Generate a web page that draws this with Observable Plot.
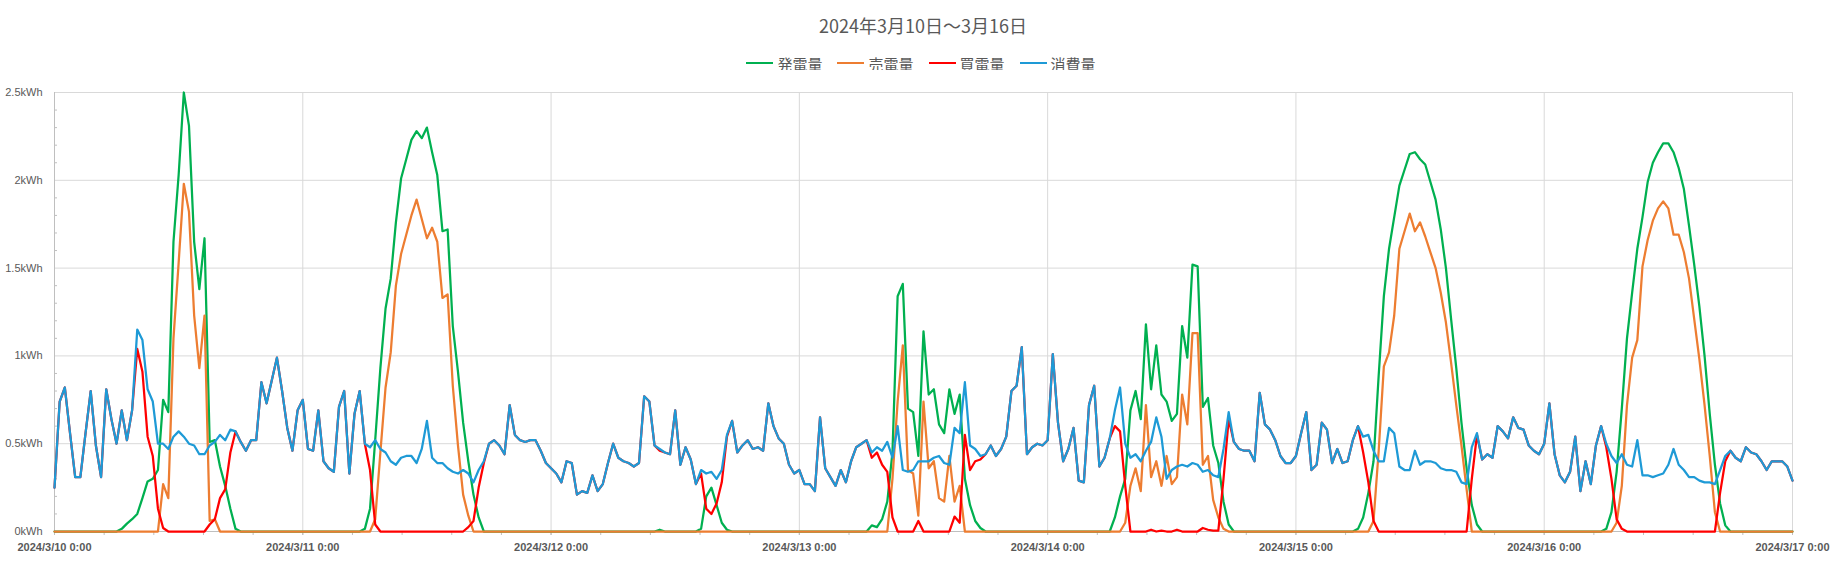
<!DOCTYPE html>
<html>
<head>
<meta charset="utf-8">
<script src="https://cdn.jsdelivr.net/npm/d3@7"></script>
<script src="https://cdn.jsdelivr.net/npm/@observablehq/plot@0.6"></script>
<style>
html, body { margin: 0; padding: 0; background: #ffffff; }
#wrap { position: relative; width: 1840px; height: 561px; overflow: hidden; color: #595959; }
#title { position: absolute; left: 0; top: 11px; width: 1846px; text-align: center; font-family: "Noto Sans CJK JP", "Noto Sans", sans-serif; font-size: 18px; line-height: 28px; color: #595959; }
#legend { position: absolute; left: 0; top: 50px; width: 1842px; height: 26px; display: flex; justify-content: center; align-items: center; gap: 15px; font-family: "Noto Sans CJK JP", "Noto Sans", sans-serif; font-size: 15px; color: #595959; }
.item { display: flex; align-items: center; gap: 4px; }
.sw { width: 27px; height: 2.5px; }
#chart { position: absolute; left: 0; top: 70px; }
</style>
</head>
<body>
<div id="wrap">
  <div id="title"></div>
  <div id="legend"></div>
  <div id="chart"></div>
</div>
<script>
// ---- data (half-hourly, 2024/3/10 0:00 .. 2024/3/17 0:00) ----
const titleText = "2024年3月10日～3月16日";
const seriesNames = ["発電量", "売電量", "買電量", "消費量"];
const seriesColors = ["#00b050", "#ed7d31", "#ff0000", "#1e9ad6"];
const startTime = "2024-03-10T00:00:00Z";

const dayTicks = ["2024-03-10T00:00:00Z","2024-03-11T00:00:00Z","2024-03-12T00:00:00Z","2024-03-13T00:00:00Z","2024-03-14T00:00:00Z","2024-03-15T00:00:00Z","2024-03-16T00:00:00Z","2024-03-17T00:00:00Z"];
const xTickLabels = ["2024/3/10 0:00","2024/3/11 0:00","2024/3/12 0:00","2024/3/13 0:00","2024/3/14 0:00","2024/3/15 0:00","2024/3/16 0:00","2024/3/17 0:00"];
const yTicks = [0, 0.5, 1, 1.5, 2, 2.5];
const yTickLabels = ["0kWh","0.5kWh","1kWh","1.5kWh","2kWh","2.5kWh"];
const yMinorTicks = [0.1,0.2,0.3,0.4,0.6,0.7,0.8,0.9,1.1,1.2,1.3,1.4,1.6,1.7,1.8,1.9,2.1,2.2,2.3,2.4];

// 発電量 (generation)
const gen = [
0,0,0,0,0,0,0,0,0,0, 0,0,0,0.015,0.045,0.07,0.10,0.19,0.285,0.30, 0.35,0.75,0.68,1.65,2.03,2.50,2.31,1.65,1.38,1.67, 0.51,0.52,0.37,0.26,0.13,0.015,0,0,0,0, 0,0,0,0,0,0,0,0,
0,0,0,0,0,0,0,0,0,0, 0,0,0.015,0.13,0.52,0.93,1.27,1.44,1.76,2.01, 2.12,2.23,2.28,2.24,2.30,2.16,2.03,1.71,1.72,1.17, 0.91,0.62,0.40,0.21,0.08,0,0,0,0,0, 0,0,0,0,0,0,0,0,
0,0,0,0,0,0,0,0,0,0, 0,0,0,0,0,0,0,0,0,0, 0,0.01,0,0,0,0,0,0,0,0.015, 0.20,0.25,0.15,0.05,0.01,0,0,0,0,0, 0,0,0,0,0,0,0,0,
0,0,0,0,0,0,0,0,0,0, 0,0,0,0,0.035,0.025,0.07,0.17,0.45,1.34, 1.41,0.70,0.68,0.43,1.14,0.78,0.81,0.61,0.56,0.81, 0.67,0.78,0.30,0.15,0.06,0.02,0,0,0,0, 0,0,0,0,0,0,0,0,
0,0,0,0,0,0,0,0,0,0, 0,0,0,0.08,0.20,0.30,0.69,0.80,0.64,1.18, 0.81,1.06,0.78,0.74,0.63,0.67,1.17,0.99,1.52,1.51, 0.71,0.76,0.49,0.39,0.17,0.04,0,0,0,0, 0,0,0,0,0,0,0,0,
0,0,0,0,0,0,0,0,0,0, 0,0,0.015,0.08,0.22,0.40,0.89,1.34,1.61,1.79, 1.97,2.06,2.15,2.16,2.12,2.09,1.99,1.89,1.72,1.50, 1.21,0.93,0.62,0.36,0.15,0.04,0,0,0,0, 0,0,0,0,0,0,0,0,
0,0,0,0,0,0,0,0,0,0, 0,0,0.015,0.11,0.34,0.70,1.10,1.36,1.61,1.79, 1.99,2.10,2.16,2.21,2.21,2.16,2.07,1.95,1.74,1.52, 1.28,1.00,0.67,0.38,0.16,0.035,0,0,0,0, 0,0,0,0,0,0,0,0,
0];

// 売電量 (sold)
const sell = [
0,0,0,0,0,0,0,0,0,0, 0,0,0,0,0,0,0,0,0,0, 0,0.27,0.19,1.10,1.53,1.98,1.82,1.23,0.93,1.23, 0.06,0.07,0,0,0,0,0,0,0,0, 0,0,0,0,0,0,0,0,
0,0,0,0,0,0,0,0,0,0, 0,0,0,0,0.07,0.45,0.82,1.02,1.40,1.58, 1.69,1.80,1.89,1.78,1.67,1.73,1.65,1.33,1.35,0.83, 0.49,0.21,0.09,0,0,0,0,0,0,0, 0,0,0,0,0,0,0,0,
0,0,0,0,0,0,0,0,0,0, 0,0,0,0,0,0,0,0,0,0, 0,0,0,0,0,0,0,0,0,0, 0,0,0,0,0,0,0,0,0,0, 0,0,0,0,0,0,0,0,
0,0,0,0,0,0,0,0,0,0, 0,0,0,0,0,0,0,0,0.30,0.74, 1.06,0.35,0.33,0.09,0.74,0.36,0.40,0.19,0.17,0.43, 0.17,0.26,0,0,0,0,0,0,0,0, 0,0,0,0,0,0,0,0,
0,0,0,0,0,0,0,0,0,0, 0,0,0,0,0,0.05,0.26,0.36,0.23,0.72, 0.31,0.40,0.26,0.43,0.27,0.31,0.78,0.61,1.13,1.13, 0.38,0.43,0.18,0.08,0.015,0,0,0,0,0, 0,0,0,0,0,0,0,0,
0,0,0,0,0,0,0,0,0,0, 0,0,0,0,0,0.06,0.46,0.94,1.02,1.23, 1.61,1.71,1.81,1.71,1.76,1.68,1.59,1.50,1.36,1.19, 0.96,0.72,0.49,0.24,0,0,0,0,0,0, 0,0,0,0,0,0,0,0,
0,0,0,0,0,0,0,0,0,0, 0,0,0,0,0.05,0.26,0.72,0.99,1.09,1.51, 1.66,1.77,1.84,1.88,1.84,1.69,1.69,1.59,1.44,1.21, 0.98,0.72,0.43,0.11,0,0,0,0,0,0, 0,0,0,0,0,0,0,0,
0];

// 買電量 (bought)
const buy = [
0.25,0.74,0.82,0.56,0.31,0.31,0.56,0.80,0.49,0.31, 0.81,0.64,0.50,0.69,0.52,0.69,1.04,0.91,0.54,0.43, 0.13,0.02,0,0,0,0,0,0,0,0, 0.04,0.07,0.19,0.24,0.45,0.57,0.51,0.46,0.52,0.52, 0.85,0.73,0.86,0.99,0.80,0.59,0.46,0.69,
0.75,0.47,0.46,0.69,0.40,0.36,0.34,0.71,0.80,0.33, 0.67,0.80,0.50,0.35,0.04,0,0,0,0,0, 0,0,0,0,0,0,0,0,0,0, 0,0,0.025,0.06,0.25,0.39,0.50,0.52,0.49,0.44, 0.72,0.55,0.52,0.51,0.52,0.52,0.46,0.39,
0.36,0.33,0.28,0.40,0.39,0.21,0.23,0.22,0.32,0.23, 0.27,0.39,0.50,0.42,0.40,0.39,0.37,0.39,0.77,0.74, 0.49,0.46,0.45,0.44,0.69,0.38,0.48,0.41,0.27,0.33, 0.13,0.10,0.16,0.28,0.54,0.63,0.45,0.49,0.52,0.47, 0.48,0.46,0.73,0.60,0.53,0.50,0.38,0.33,
0.35,0.27,0.27,0.23,0.65,0.36,0.31,0.26,0.35,0.28, 0.40,0.48,0.50,0.52,0.42,0.45,0.38,0.34,0.08,0, 0,0,0,0.06,0,0,0,0,0,0, 0.085,0.05,0.55,0.35,0.40,0.41,0.44,0.49,0.43,0.47, 0.54,0.80,0.83,1.05,0.44,0.48,0.50,0.49,
0.52,1.01,0.62,0.40,0.47,0.59,0.29,0.28,0.72,0.83, 0.37,0.42,0.53,0.60,0.57,0.26,0,0,0,0, 0.01,0,0.005,0,0,0.01,0,0,0,0, 0.02,0.01,0.005,0.005,0.30,0.64,0.51,0.47,0.46,0.46, 0.40,0.79,0.61,0.58,0.52,0.43,0.39,0.39,
0.43,0.56,0.68,0.35,0.38,0.62,0.58,0.39,0.47,0.39, 0.40,0.52,0.60,0.45,0.28,0.06,0,0,0,0, 0,0,0,0,0,0,0,0,0,0, 0,0,0,0,0.30,0.55,0.41,0.44,0.42,0.60, 0.57,0.53,0.65,0.59,0.58,0.49,0.46,0.44,
0.50,0.73,0.44,0.32,0.28,0.34,0.54,0.23,0.40,0.27, 0.49,0.60,0.48,0.30,0.07,0.015,0,0,0,0, 0,0,0,0,0,0,0,0,0,0, 0,0,0,0,0.22,0.40,0.46,0.42,0.40,0.48, 0.45,0.44,0.40,0.35,0.40,0.40,0.40,0.37,
0.29];

// 消費量 (consumption)
const use = [
0.25,0.74,0.82,0.56,0.31,0.31,0.56,0.80,0.49,0.31, 0.81,0.64,0.50,0.69,0.52,0.69,1.15,1.09,0.81,0.74, 0.50,0.50,0.47,0.54,0.57,0.54,0.50,0.49,0.44,0.44, 0.49,0.51,0.55,0.52,0.58,0.57,0.51,0.46,0.52,0.52, 0.85,0.73,0.86,0.99,0.80,0.59,0.46,0.69,
0.75,0.47,0.46,0.69,0.40,0.36,0.34,0.71,0.80,0.33, 0.67,0.80,0.50,0.48,0.52,0.47,0.45,0.40,0.38,0.42, 0.43,0.43,0.39,0.47,0.63,0.42,0.39,0.39,0.36,0.34, 0.33,0.35,0.33,0.28,0.35,0.40,0.50,0.52,0.49,0.44, 0.72,0.55,0.52,0.51,0.52,0.52,0.46,0.39,
0.36,0.33,0.28,0.40,0.39,0.21,0.23,0.22,0.32,0.23, 0.27,0.39,0.50,0.42,0.40,0.39,0.37,0.39,0.77,0.74, 0.49,0.47,0.45,0.44,0.69,0.38,0.48,0.41,0.27,0.35, 0.33,0.34,0.30,0.35,0.55,0.63,0.45,0.49,0.52,0.47, 0.48,0.46,0.73,0.60,0.53,0.50,0.38,0.33,
0.35,0.27,0.27,0.23,0.65,0.36,0.31,0.26,0.35,0.28, 0.40,0.48,0.50,0.52,0.45,0.48,0.46,0.51,0.42,0.60, 0.35,0.34,0.35,0.40,0.40,0.40,0.42,0.43,0.39,0.38, 0.59,0.56,0.85,0.49,0.47,0.43,0.44,0.49,0.43,0.47, 0.54,0.80,0.83,1.05,0.44,0.48,0.50,0.49,
0.52,1.01,0.62,0.40,0.47,0.59,0.29,0.28,0.72,0.83, 0.37,0.42,0.53,0.69,0.82,0.50,0.42,0.44,0.40,0.46, 0.51,0.65,0.54,0.30,0.35,0.37,0.38,0.37,0.39,0.38, 0.34,0.35,0.32,0.31,0.47,0.68,0.51,0.47,0.46,0.46, 0.40,0.79,0.61,0.58,0.52,0.43,0.39,0.39,
0.43,0.56,0.68,0.35,0.38,0.62,0.58,0.39,0.47,0.39, 0.40,0.52,0.60,0.54,0.55,0.46,0.40,0.40,0.59,0.56, 0.37,0.35,0.35,0.46,0.38,0.40,0.40,0.39,0.36,0.35, 0.35,0.34,0.28,0.27,0.48,0.56,0.41,0.44,0.42,0.60, 0.57,0.53,0.65,0.59,0.58,0.49,0.46,0.44,
0.50,0.73,0.44,0.32,0.28,0.34,0.54,0.23,0.40,0.27, 0.49,0.60,0.50,0.43,0.39,0.44,0.38,0.37,0.52,0.32, 0.32,0.31,0.32,0.33,0.38,0.47,0.38,0.35,0.31,0.31, 0.29,0.28,0.28,0.27,0.35,0.43,0.46,0.42,0.40,0.48, 0.45,0.44,0.40,0.35,0.40,0.40,0.40,0.37,
0.29];

// ---- build ----
const series = [gen, sell, buy, use];
const t0 = new Date(startTime).getTime();
const halfHour = 30 * 60 * 1000;
const dayDates = dayTicks.map(s => new Date(s));
const minorStep = 0.2 * 24 * 3600 * 1000;
const xMinor = d3.range(0, 36).map(k => new Date(t0 + k * minorStep));

document.getElementById("title").textContent = titleText;
const legend = document.getElementById("legend");
seriesNames.forEach((name, k) => {
  const it = document.createElement("div"); it.className = "item";
  const sw = document.createElement("div"); sw.className = "sw"; sw.style.background = seriesColors[k];
  const tx = document.createElement("span"); tx.textContent = name;
  it.appendChild(sw); it.appendChild(tx); legend.appendChild(it);
});

const W = 1840, H = 491, mL = 54, mR = 48, mT = 22, mB = 30;
const plotW = W - mL - mR;
const xLabel = d => { const k = dayDates.findIndex(e => e.getTime() === d.getTime()); return k >= 0 ? xTickLabels[k] : ""; };
const yLabel = d => { const k = yTicks.indexOf(d); return k >= 0 ? yTickLabels[k] : ""; };

const lineMarks = series.map((vals, k) =>
  Plot.lineY(vals, {
    x: (d, i) => new Date(t0 + i * halfHour),
    y: d => d,
    stroke: seriesColors[k],
    strokeWidth: 2.25,
    strokeLinejoin: "round",
    strokeLinecap: "round"
  })
);

const chart = Plot.plot({
  width: W, height: H,
  marginLeft: mL, marginRight: mR, marginTop: mT, marginBottom: mB,
  style: { fontFamily: "'Liberation Sans', Arial, sans-serif", fontSize: "11px", color: "#595959", background: "#ffffff", overflow: "visible" },
  x: { type: "utc", domain: [dayDates[0], dayDates[dayDates.length - 1]] },
  y: { domain: [0, 2.5] },
  marks: [
    Plot.gridY(yTicks, { stroke: "#d9d9d9", strokeOpacity: 1, strokeWidth: 1 }),
    Plot.gridX(dayDates, { stroke: "#d9d9d9", strokeOpacity: 1, strokeWidth: 1 }),
    Plot.tickY(yMinorTicks, { y: d => d, stroke: "#bfbfbf", insetRight: plotW - 3 }),
    Plot.ruleX([dayDates[0]], { stroke: "#bfbfbf" }),
    Plot.ruleY([yTicks[0]], { stroke: "#bfbfbf" }),
    Plot.axisX({ ticks: xMinor, tickSize: 4, tickFormat: () => "", stroke: "#bfbfbf" }),
    Plot.axisX({ ticks: dayDates, tickSize: 4, tickPadding: 8, tickFormat: xLabel, stroke: "#bfbfbf", fill: "#595959", fontWeight: "bold", fontSize: 11 }),
    Plot.axisY({ ticks: yTicks, tickSize: 0, tickPadding: 12, tickFormat: yLabel, fill: "#595959", fontSize: 11 }),
    ...lineMarks
  ]
});
document.getElementById("chart").appendChild(chart);
</script>
</body>
</html>
